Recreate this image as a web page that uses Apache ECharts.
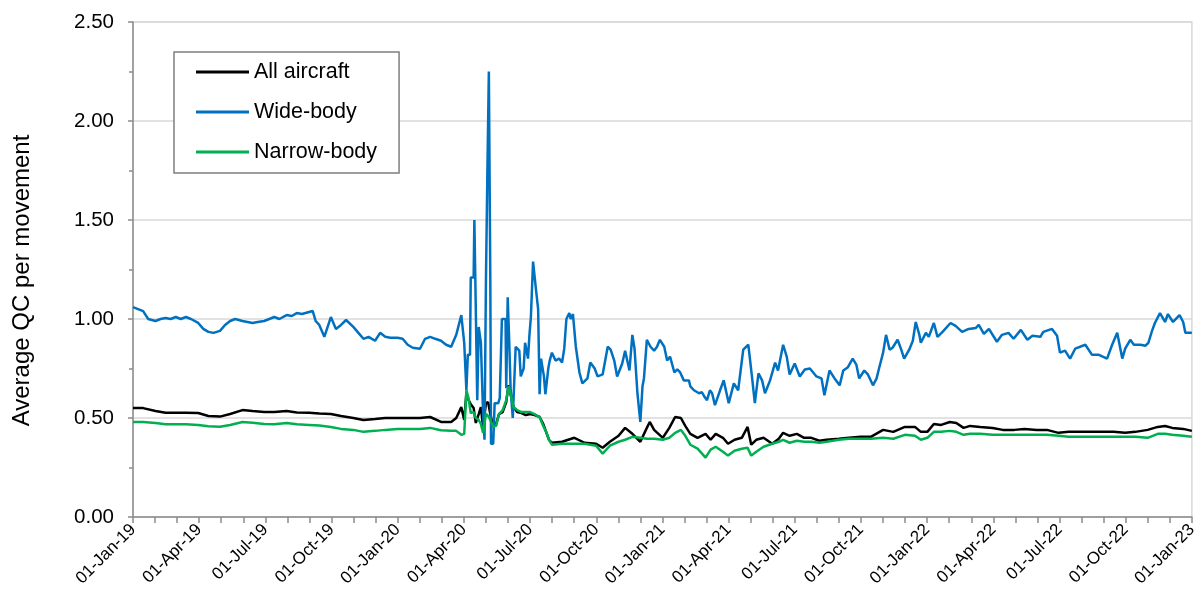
<!DOCTYPE html>
<html>
<head>
<meta charset="utf-8">
<script src="https://cdn.jsdelivr.net/npm/echarts@6/dist/echarts.min.js"></script>
<style>
html,body{margin:0;padding:0;background:#fff;}
#chart{width:1200px;height:601px;}
</style>
</head>
<body>
<div id="chart"></div>
<script>
// ---- DATA ----
const tickLabels = ["01-Jan-19","01-Apr-19","01-Jul-19","01-Oct-19","01-Jan-20","01-Apr-20","01-Jul-20","01-Oct-20","01-Jan-21","01-Apr-21","01-Jul-21","01-Oct-21","01-Jan-22","01-Apr-22","01-Jul-22","01-Oct-22","01-Jan-23"];
const seriesNames = ["All aircraft","Wide-body","Narrow-body"];

const allNarrowDates = ["2019-01-01","2019-01-15","2019-02-01","2019-02-15","2019-03-01","2019-03-15","2019-04-01","2019-04-15","2019-05-01","2019-05-15","2019-06-01","2019-06-15","2019-07-01","2019-07-15","2019-08-01","2019-08-15","2019-09-01","2019-09-15","2019-10-01","2019-10-15","2019-11-01","2019-11-15","2019-12-01","2019-12-15","2020-01-01","2020-01-15","2020-02-01","2020-02-15","2020-03-01","2020-03-15","2020-03-22","2020-03-29","2020-04-02","2020-04-05","2020-04-08","2020-04-11","2020-04-15","2020-04-18","2020-04-22","2020-04-25","2020-04-28","2020-05-02","2020-05-05","2020-05-08","2020-05-12","2020-05-16","2020-05-20","2020-05-25","2020-05-30","2020-06-02","2020-06-05","2020-06-09","2020-06-14","2020-06-20","2020-06-26","2020-07-02","2020-07-08","2020-07-12","2020-07-15","2020-07-20","2020-07-24","2020-07-28","2020-08-01","2020-08-15","2020-09-01","2020-09-15","2020-10-01","2020-10-10","2020-10-20","2020-11-01","2020-11-10","2020-11-20","2020-12-01","2020-12-10","2020-12-14","2020-12-20","2021-01-01","2021-01-10","2021-01-18","2021-01-26","2021-02-01","2021-02-08","2021-02-18","2021-03-01","2021-03-08","2021-03-15","2021-03-25","2021-04-01","2021-04-10","2021-04-20","2021-04-28","2021-05-03","2021-05-10","2021-05-20","2021-06-01","2021-06-10","2021-06-16","2021-06-25","2021-07-05","2021-07-15","2021-07-25","2021-08-05","2021-08-15","2021-09-01","2021-09-15","2021-10-01","2021-10-15","2021-11-01","2021-11-15","2021-12-01","2021-12-15","2021-12-23","2022-01-01","2022-01-10","2022-01-20","2022-02-01","2022-02-10","2022-02-20","2022-03-01","2022-03-15","2022-04-01","2022-04-15","2022-05-01","2022-05-15","2022-06-01","2022-06-15","2022-07-01","2022-07-15","2022-08-01","2022-08-15","2022-09-01","2022-09-15","2022-10-01","2022-10-15","2022-11-01","2022-11-15","2022-11-25","2022-12-05","2022-12-20","2023-01-01"];

const allAircraft = [0.55,0.55,0.535,0.527,0.527,0.527,0.525,0.51,0.507,0.52,0.54,0.535,0.53,0.53,0.535,0.528,0.527,0.523,0.52,0.51,0.50,0.49,0.495,0.50,0.50,0.50,0.50,0.505,0.48,0.48,0.50,0.555,0.49,0.625,0.59,0.57,0.55,0.475,0.52,0.555,0.455,0.575,0.58,0.52,0.455,0.47,0.52,0.53,0.58,0.665,0.62,0.555,0.53,0.525,0.515,0.52,0.515,0.51,0.505,0.47,0.43,0.39,0.375,0.38,0.40,0.375,0.37,0.35,0.38,0.41,0.45,0.42,0.38,0.45,0.48,0.44,0.40,0.45,0.505,0.50,0.46,0.42,0.40,0.42,0.39,0.42,0.40,0.37,0.39,0.40,0.455,0.365,0.39,0.40,0.37,0.395,0.425,0.41,0.42,0.40,0.40,0.385,0.39,0.395,0.40,0.405,0.405,0.44,0.43,0.455,0.455,0.43,0.43,0.47,0.465,0.48,0.475,0.45,0.46,0.455,0.45,0.44,0.44,0.445,0.44,0.44,0.425,0.43,0.43,0.43,0.43,0.43,0.425,0.43,0.44,0.455,0.46,0.45,0.445,0.435];

const narrowBody = [0.48,0.48,0.475,0.468,0.468,0.468,0.465,0.458,0.456,0.465,0.48,0.476,0.47,0.468,0.475,0.468,0.465,0.462,0.455,0.445,0.44,0.43,0.435,0.44,0.445,0.445,0.445,0.45,0.438,0.435,0.435,0.415,0.42,0.64,0.60,0.525,0.53,0.50,0.49,0.47,0.425,0.52,0.51,0.49,0.455,0.46,0.52,0.54,0.59,0.66,0.62,0.555,0.54,0.53,0.53,0.53,0.52,0.51,0.505,0.46,0.43,0.39,0.365,0.37,0.37,0.37,0.36,0.32,0.36,0.38,0.39,0.405,0.40,0.395,0.395,0.395,0.39,0.40,0.425,0.44,0.41,0.365,0.345,0.30,0.34,0.355,0.33,0.31,0.335,0.345,0.35,0.31,0.33,0.355,0.37,0.38,0.39,0.375,0.385,0.38,0.38,0.375,0.38,0.39,0.395,0.395,0.395,0.40,0.395,0.415,0.41,0.39,0.40,0.43,0.43,0.435,0.43,0.415,0.42,0.42,0.415,0.415,0.415,0.415,0.415,0.415,0.41,0.405,0.405,0.405,0.405,0.405,0.405,0.405,0.40,0.42,0.42,0.415,0.41,0.405];

const wideDates = ["2019-01-01","2019-01-08","2019-01-15","2019-01-22","2019-02-01","2019-02-08","2019-02-15","2019-02-22","2019-03-01","2019-03-08","2019-03-15","2019-03-22","2019-04-01","2019-04-08","2019-04-15","2019-04-22","2019-05-01","2019-05-08","2019-05-15","2019-05-22","2019-06-01","2019-06-08","2019-06-15","2019-06-22","2019-07-01","2019-07-08","2019-07-15","2019-07-22","2019-08-01","2019-08-08","2019-08-15","2019-08-22","2019-09-01","2019-09-06","2019-09-10","2019-09-15","2019-09-22","2019-10-01","2019-10-08","2019-10-15","2019-10-22","2019-11-01","2019-11-08","2019-11-15","2019-11-22","2019-12-01","2019-12-08","2019-12-15","2019-12-22","2020-01-01","2020-01-08","2020-01-15","2020-01-22","2020-02-01","2020-02-08","2020-02-15","2020-02-22","2020-03-01","2020-03-08","2020-03-15","2020-03-22","2020-03-29","2020-04-02","2020-04-05","2020-04-07","2020-04-10","2020-04-11","2020-04-15","2020-04-16","2020-04-18","2020-04-20","2020-04-22","2020-04-25","2020-04-28","2020-04-30","2020-05-02","2020-05-04","2020-05-06","2020-05-08","2020-05-09","2020-05-12","2020-05-14","2020-05-19","2020-05-21","2020-05-24","2020-05-29","2020-05-30","2020-06-01","2020-06-03","2020-06-05","2020-06-08","2020-06-12","2020-06-17","2020-06-19","2020-06-23","2020-06-25","2020-06-29","2020-07-01","2020-07-03","2020-07-06","2020-07-08","2020-07-10","2020-07-13","2020-07-15","2020-07-17","2020-07-21","2020-07-23","2020-07-27","2020-07-29","2020-08-01","2020-08-06","2020-08-11","2020-08-15","2020-08-18","2020-08-21","2020-08-25","2020-08-27","2020-08-30","2020-09-03","2020-09-08","2020-09-12","2020-09-19","2020-09-23","2020-09-29","2020-10-03","2020-10-10","2020-10-17","2020-10-21","2020-10-26","2020-10-30","2020-11-06","2020-11-10","2020-11-16","2020-11-20","2020-11-23","2020-11-27","2020-12-01","2020-12-04","2020-12-06","2020-12-10","2020-12-15","2020-12-20","2020-12-24","2020-12-28","2021-01-03","2021-01-07","2021-01-11","2021-01-17","2021-01-21","2021-01-25","2021-01-30","2021-02-06","2021-02-08","2021-02-13","2021-02-20","2021-02-24","2021-02-27","2021-03-03","2021-03-07","2021-03-10","2021-03-14","2021-03-21","2021-03-26","2021-04-02","2021-04-09","2021-04-15","2021-04-22","2021-04-29","2021-05-04","2021-05-08","2021-05-13","2021-05-18","2021-05-22","2021-05-29","2021-06-05","2021-06-09","2021-06-16","2021-06-21","2021-06-25","2021-07-02","2021-07-09","2021-07-16","2021-07-23","2021-08-01","2021-08-08","2021-08-12","2021-08-19","2021-08-26","2021-09-02","2021-09-07","2021-09-13","2021-09-20","2021-09-25","2021-09-29","2021-10-06","2021-10-11","2021-10-18","2021-10-23","2021-10-26","2021-11-01","2021-11-05","2021-11-10","2021-11-14","2021-11-21","2021-11-26","2021-11-30","2021-12-07","2021-12-12","2021-12-16","2021-12-21","2021-12-23","2021-12-30","2022-01-03","2022-01-10","2022-01-15","2022-01-22","2022-02-02","2022-02-09","2022-02-18","2022-02-27","2022-03-09","2022-03-13","2022-03-20","2022-03-27","2022-04-07","2022-04-14","2022-04-23","2022-04-30","2022-05-10","2022-05-19","2022-05-26","2022-06-06","2022-06-10","2022-06-22","2022-06-29","2022-07-03","2022-07-10","2022-07-17","2022-07-24","2022-08-07","2022-08-16","2022-08-25","2022-09-06","2022-09-13","2022-09-20","2022-09-27","2022-10-01","2022-10-08","2022-10-13","2022-10-22","2022-10-29","2022-11-02","2022-11-07","2022-11-11","2022-11-18","2022-11-25","2022-11-29","2022-12-06","2022-12-15","2022-12-20","2022-12-23","2023-01-01"];

const wideBody = [1.06,1.05,1.04,1.00,0.99,1.00,1.005,1.00,1.01,1.00,1.01,1.00,0.98,0.95,0.935,0.93,0.94,0.97,0.99,1.00,0.99,0.985,0.98,0.985,0.99,1.00,1.01,1.00,1.02,1.015,1.03,1.025,1.035,1.04,0.99,0.97,0.91,1.01,0.95,0.97,0.995,0.96,0.93,0.90,0.91,0.89,0.93,0.91,0.905,0.905,0.90,0.87,0.855,0.85,0.90,0.91,0.90,0.89,0.87,0.86,0.92,1.02,0.88,0.64,0.82,0.82,1.21,1.21,1.50,1.50,0.59,0.96,0.88,0.525,0.39,1.20,1.75,2.25,1.21,0.37,0.37,0.575,0.575,0.60,1.00,1.00,0.65,1.11,0.90,0.65,0.50,0.86,0.84,0.71,0.75,0.88,0.80,0.92,1.01,1.29,1.29,1.15,1.05,0.62,0.80,0.71,0.62,0.75,0.79,0.83,0.79,0.80,0.78,0.85,1.00,1.03,1.00,1.025,0.86,0.73,0.675,0.70,0.78,0.75,0.71,0.72,0.86,0.845,0.79,0.71,0.775,0.84,0.74,0.92,0.85,0.625,0.48,0.66,0.70,0.895,0.86,0.84,0.86,0.895,0.86,0.79,0.81,0.73,0.745,0.73,0.69,0.69,0.66,0.64,0.625,0.63,0.61,0.59,0.64,0.625,0.565,0.64,0.69,0.575,0.675,0.64,0.845,0.87,0.71,0.575,0.725,0.69,0.625,0.69,0.78,0.74,0.87,0.81,0.72,0.775,0.71,0.745,0.75,0.71,0.70,0.615,0.74,0.70,0.665,0.74,0.755,0.80,0.77,0.70,0.74,0.72,0.665,0.70,0.745,0.83,0.92,0.845,0.855,0.895,0.845,0.80,0.845,0.89,0.985,0.92,0.88,0.93,0.91,0.98,0.91,0.935,0.98,0.965,0.935,0.95,0.955,0.97,0.925,0.95,0.885,0.92,0.93,0.90,0.945,0.895,0.915,0.91,0.935,0.95,0.915,0.83,0.84,0.80,0.85,0.87,0.82,0.82,0.80,0.87,0.93,0.80,0.85,0.895,0.87,0.87,0.865,0.88,0.94,0.98,1.03,0.985,1.025,0.985,1.02,0.985,0.93,0.93];

// ---- BUILD ----
const START = Date.parse("2019-01-01");
const SPAN = 1461; // days 01-Jan-19 .. 01-Jan-23
const STEP = SPAN / 16;
function dayOf(d){ return (Date.parse(d) - START) / 86400000; }
function pairs(dates, vals){ return dates.map((d,i)=>[dayOf(d), vals[i]]); }

const FONT = "'Liberation Sans', Arial, sans-serif";
const AXIS_GRAY = "#8c8c8c";

const chart = echarts.init(document.getElementById('chart'), null, {renderer:'canvas'});
chart.setOption({
  animation: false,
  backgroundColor: '#ffffff',
  textStyle: {fontFamily: FONT},
  grid: {left: 133, right: 4, top: 22, bottom: 84, containLabel: false,
         show: true, borderColor: '#d9d9d9', borderWidth: 1.5, backgroundColor: 'transparent'},
  legend: {
    data: seriesNames,
    orient: 'vertical',
    left: 174, top: 52,
    icon: 'rect',
    itemWidth: 53, itemHeight: 3,
    itemGap: 18,
    padding: [9, 22, 10, 22],
    borderColor: '#7f7f7f', borderWidth: 1.5,
    backgroundColor: '#ffffff',
    textStyle: {fontFamily: FONT, fontSize: 21.5, color: '#000'}
  },
  xAxis: {
    type: 'value',
    min: 0, max: SPAN, interval: STEP,
    axisLine: {show: true, lineStyle: {color: AXIS_GRAY, width: 1.5}},
    axisTick: {show: true, length: 6, lineStyle: {color: AXIS_GRAY, width: 1.5}},
    minorTick: {show: true, splitNumber: 3, length: 6, lineStyle: {color: AXIS_GRAY, width: 1.5}},
    splitLine: {show: false},
    axisLabel: {
      rotate: 45, fontSize: 17, color: '#000', fontFamily: FONT, margin: 10,
      showMinLabel: true, showMaxLabel: true,
      formatter: v => tickLabels[Math.round(v / STEP)] || ''
    }
  },
  yAxis: {
    type: 'value',
    min: 0, max: 2.5, interval: 0.5,
    name: 'Average QC per movement',
    nameLocation: 'middle', nameGap: 99,
    nameTextStyle: {fontSize: 24, color: '#000', fontFamily: FONT, padding: [0, 22, 0, 0]},
    axisLine: {show: true, lineStyle: {color: AXIS_GRAY, width: 1.5}},
    axisTick: {show: true, length: 5, lineStyle: {color: AXIS_GRAY, width: 1.5}},
    minorTick: {show: true, splitNumber: 2, length: 4, lineStyle: {color: AXIS_GRAY, width: 1.5}},
    splitLine: {show: true, lineStyle: {color: '#d9d9d9', width: 1.5}},
    axisLabel: {fontSize: 20.5, color: '#000', fontFamily: FONT, margin: 19, formatter: v => v.toFixed(2)}
  },
  series: [
    {name: seriesNames[0], type: 'line', data: pairs(allNarrowDates, allAircraft), showSymbol: false, symbol: 'none',
     lineStyle: {color: '#000000', width: 2.5}, itemStyle: {color: '#000000'}},
    {name: seriesNames[1], type: 'line', data: pairs(wideDates, wideBody), showSymbol: false, symbol: 'none',
     lineStyle: {color: '#0070C0', width: 2.5}, itemStyle: {color: '#0070C0'}},
    {name: seriesNames[2], type: 'line', data: pairs(allNarrowDates, narrowBody), showSymbol: false, symbol: 'none',
     lineStyle: {color: '#00B050', width: 2.5}, itemStyle: {color: '#00B050'}}
  ]
});
</script>
</body>
</html>
